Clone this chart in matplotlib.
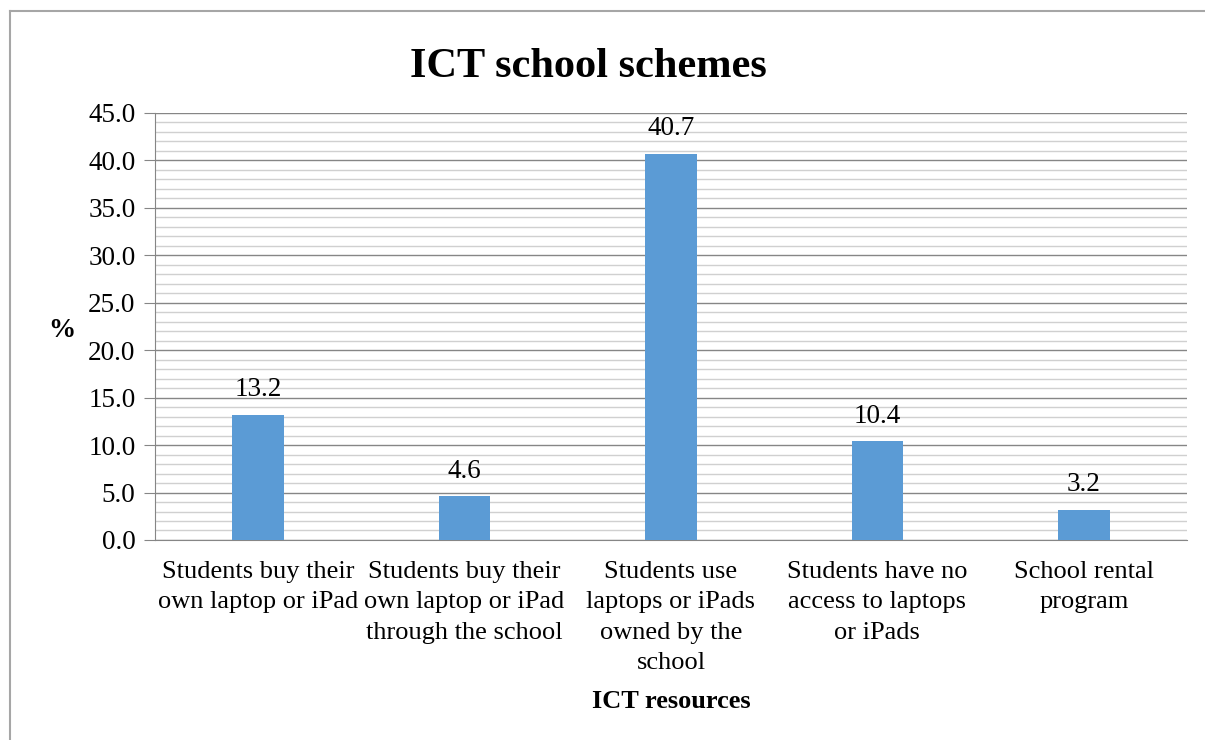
import matplotlib.pyplot as plt
from matplotlib.lines import Line2D
from matplotlib.ticker import MultipleLocator

categories = ['Students buy their\nown laptop or iPad',
              'Students buy their\nown laptop or iPad\nthrough the school',
              'Students use\nlaptops or iPads\nowned by the\nschool',
              'Students have no\naccess to laptops\nor iPads',
              'School rental\nprogram']
values = [13.2, 4.6, 40.7, 10.4, 3.2]

plt.rcParams['font.family'] = ['Liberation Serif', 'DejaVu Serif']

fig = plt.figure(figsize=(12.05, 7.4), dpi=100)
ax = fig.add_axes([0.1286, 0.2703, 0.8564, 0.577])

x = range(len(values))
bars = ax.bar(x, values, width=0.25, color='#5b9bd5', zorder=3)

for xi, v in zip(x, values):
    ax.annotate('%.1f' % v, (xi, v), xytext=(0, 9), textcoords='offset points',
                ha='center', va='bottom', fontsize=19.5, color='#000000')

ax.set_xlim(-0.5, len(values) - 0.5)
ax.set_ylim(0, 45)
ax.yaxis.set_major_locator(MultipleLocator(5))
ax.yaxis.set_minor_locator(MultipleLocator(1))
ax.yaxis.set_major_formatter(lambda v, p: '%.1f' % v)

ax.grid(axis='y', which='major', color='#868686', linewidth=1.0, zorder=0)
ax.grid(axis='y', which='minor', color='#d0d0d0', linewidth=1.0, zorder=0)
ax.set_axisbelow(True)

for s in ['top', 'right']:
    ax.spines[s].set_visible(False)
ax.spines['left'].set_color('#868686')
ax.spines['bottom'].set_color('#868686')

ax.tick_params(axis='y', which='major', length=8, color='#868686', labelsize=19.5, pad=6)
ax.tick_params(axis='y', which='minor', length=0)
ax.tick_params(axis='x', length=0, labelsize=19, pad=15)
ax.set_xticks(list(x))
ax.set_xticklabels(categories, linespacing=1.5)

ax.set_xlabel('ICT resources', fontsize=19, fontweight='bold', labelpad=11)
ax.set_ylabel('%', fontsize=19.5, fontweight='bold', rotation=0, va='center')
ax.yaxis.set_label_coords(-0.09, 0.49)

fig.text(0.488, 0.91, 'ICT school schemes', ha='center', va='center',
         fontsize=30.5, fontweight='bold')

# chart frame
fig.add_artist(Line2D([10 / 1205, 10 / 1205], [0, 1 - 11 / 740], color='#a6a6a6', lw=1.5))
fig.add_artist(Line2D([10 / 1205, 1], [1 - 11 / 740, 1 - 11 / 740], color='#a6a6a6', lw=1.5))

fig.savefig('out.png', dpi=100)
